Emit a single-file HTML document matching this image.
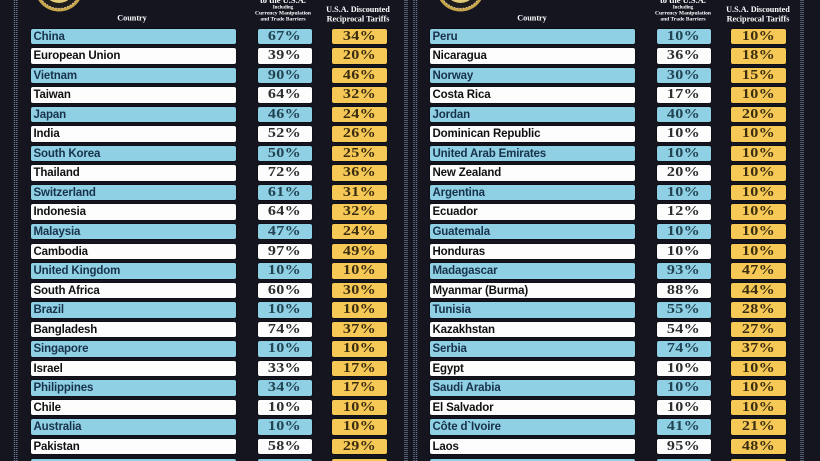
<!DOCTYPE html>
<html><head><meta charset="utf-8">
<style>
*{margin:0;padding:0;box-sizing:border-box}
html,body{width:820px;height:461px;overflow:hidden;background:#14151f}
#wrap{position:relative;width:820px;height:461px;background:#14151f;overflow:hidden}
svg.bg{position:absolute;left:0;top:0}
.col{position:absolute;top:28.5px;width:360px}
.row{position:relative;height:15.5px;margin-bottom:4.05px}
.row div{position:absolute;top:0;height:15.5px;border-radius:2px;box-shadow:0 0 0 0.5px rgba(0,0,0,.5)}
.c{left:0;width:204.5px;font-family:"Liberation Sans",sans-serif;font-weight:bold;font-size:11.5px;line-height:16px;padding-left:2.5px;white-space:nowrap;color:#14283b;letter-spacing:-0.15px}
.p{left:226.5px;width:54.5px}
.y{left:300.5px;width:55px;background:#f6c957;color:#3b2d10}
.p,.y{font-family:"Liberation Serif",serif;font-size:14px;font-weight:bold;line-height:16px;text-align:center}
.p span,.y span{display:inline-block;transform:scaleX(1.15);letter-spacing:0.3px}
.b .c,.b .p{background:#8fd0e4}
.b .c{color:#17324a}
.b .p{color:#214453}
.w .c,.w .p{background:#fdfdfd}
.w .c{color:#111}
.w .p{color:#2e2e2e}
</style></head><body><div id="wrap">
<svg class="bg" width="820" height="461" xmlns="http://www.w3.org/2000/svg">
<g stroke="#6f7b98" stroke-width="1.4" stroke-dasharray="1 1">
<line x1="14.5" y1="0" x2="14.5" y2="461"/><line x1="16.8" y1="0" x2="16.8" y2="461"/>
<line x1="405" y1="0" x2="405" y2="461"/><line x1="407" y1="0" x2="407" y2="461"/>
<line x1="414" y1="0" x2="414" y2="461"/><line x1="416.5" y1="0" x2="416.5" y2="461"/>
<line x1="801" y1="0" x2="801" y2="461"/><line x1="803" y1="0" x2="803" y2="461"/>
</g>
<g>
<circle cx="59" cy="-13" r="24.5" fill="#c9a54a"/>
<circle cx="59" cy="-13" r="21.5" fill="#1e1c1c"/>
<circle cx="59" cy="-13" r="21.5" fill="none" stroke="#d8c79a" stroke-width="1.2" stroke-dasharray="1.5 1.5"/>
<circle cx="59" cy="-13" r="16" fill="#e0c977"/>
<circle cx="460.5" cy="-13" r="24.5" fill="#c9a54a"/>
<circle cx="460.5" cy="-13" r="21.5" fill="#1e1c1c"/>
<circle cx="460.5" cy="-13" r="21.5" fill="none" stroke="#d8c79a" stroke-width="1.2" stroke-dasharray="1.5 1.5"/>
<circle cx="460.5" cy="-13" r="16" fill="#e0c977"/>
</g>
<g fill="#ffffff" font-family="Liberation Serif, serif" font-weight="bold" text-anchor="middle">
<text x="132" y="20.5" font-size="8.2">Country</text>
<text x="532" y="20.5" font-size="8.2">Country</text>
<text x="358" y="12" font-size="8.2">U.S.A. Discounted</text>
<text x="358" y="21.5" font-size="8.2">Reciprocal Tariffs</text>
<text x="758" y="12" font-size="8.2">U.S.A. Discounted</text>
<text x="758" y="21.5" font-size="8.2">Reciprocal Tariffs</text>
<text x="283" y="3" font-size="8.5">to the U.S.A.</text>
<text x="683" y="3" font-size="8.5">to the U.S.A.</text>
<g transform="translate(283 0) scale(0.5)">
<text x="0" y="17" font-size="10">Including</text>
<text x="0" y="29" font-size="11">Currency Manipulation</text>
<text x="0" y="41" font-size="11">and Trade Barriers</text>
</g>
<g transform="translate(683 0) scale(0.5)">
<text x="0" y="17" font-size="10">Including</text>
<text x="0" y="29" font-size="11">Currency Manipulation</text>
<text x="0" y="41" font-size="11">and Trade Barriers</text>
</g>
</g>
</svg>

<div class="col" style="left:31px">
<div class="row b"><div class="c">China</div><div class="p"><span>67%</span></div><div class="y"><span>34%</span></div></div>
<div class="row w"><div class="c">European Union</div><div class="p"><span>39%</span></div><div class="y"><span>20%</span></div></div>
<div class="row b"><div class="c">Vietnam</div><div class="p"><span>90%</span></div><div class="y"><span>46%</span></div></div>
<div class="row w"><div class="c">Taiwan</div><div class="p"><span>64%</span></div><div class="y"><span>32%</span></div></div>
<div class="row b"><div class="c">Japan</div><div class="p"><span>46%</span></div><div class="y"><span>24%</span></div></div>
<div class="row w"><div class="c">India</div><div class="p"><span>52%</span></div><div class="y"><span>26%</span></div></div>
<div class="row b"><div class="c">South Korea</div><div class="p"><span>50%</span></div><div class="y"><span>25%</span></div></div>
<div class="row w"><div class="c">Thailand</div><div class="p"><span>72%</span></div><div class="y"><span>36%</span></div></div>
<div class="row b"><div class="c">Switzerland</div><div class="p"><span>61%</span></div><div class="y"><span>31%</span></div></div>
<div class="row w"><div class="c">Indonesia</div><div class="p"><span>64%</span></div><div class="y"><span>32%</span></div></div>
<div class="row b"><div class="c">Malaysia</div><div class="p"><span>47%</span></div><div class="y"><span>24%</span></div></div>
<div class="row w"><div class="c">Cambodia</div><div class="p"><span>97%</span></div><div class="y"><span>49%</span></div></div>
<div class="row b"><div class="c">United Kingdom</div><div class="p"><span>10%</span></div><div class="y"><span>10%</span></div></div>
<div class="row w"><div class="c">South Africa</div><div class="p"><span>60%</span></div><div class="y"><span>30%</span></div></div>
<div class="row b"><div class="c">Brazil</div><div class="p"><span>10%</span></div><div class="y"><span>10%</span></div></div>
<div class="row w"><div class="c">Bangladesh</div><div class="p"><span>74%</span></div><div class="y"><span>37%</span></div></div>
<div class="row b"><div class="c">Singapore</div><div class="p"><span>10%</span></div><div class="y"><span>10%</span></div></div>
<div class="row w"><div class="c">Israel</div><div class="p"><span>33%</span></div><div class="y"><span>17%</span></div></div>
<div class="row b"><div class="c">Philippines</div><div class="p"><span>34%</span></div><div class="y"><span>17%</span></div></div>
<div class="row w"><div class="c">Chile</div><div class="p"><span>10%</span></div><div class="y"><span>10%</span></div></div>
<div class="row b"><div class="c">Australia</div><div class="p"><span>10%</span></div><div class="y"><span>10%</span></div></div>
<div class="row w"><div class="c">Pakistan</div><div class="p"><span>58%</span></div><div class="y"><span>29%</span></div></div>
<div class="row b"><div class="c">Sri Lanka</div><div class="p"><span>88%</span></div><div class="y"><span>44%</span></div></div>
</div>

<div class="col" style="left:430px">
<div class="row b"><div class="c">Peru</div><div class="p"><span>10%</span></div><div class="y"><span>10%</span></div></div>
<div class="row w"><div class="c">Nicaragua</div><div class="p"><span>36%</span></div><div class="y"><span>18%</span></div></div>
<div class="row b"><div class="c">Norway</div><div class="p"><span>30%</span></div><div class="y"><span>15%</span></div></div>
<div class="row w"><div class="c">Costa Rica</div><div class="p"><span>17%</span></div><div class="y"><span>10%</span></div></div>
<div class="row b"><div class="c">Jordan</div><div class="p"><span>40%</span></div><div class="y"><span>20%</span></div></div>
<div class="row w"><div class="c">Dominican Republic</div><div class="p"><span>10%</span></div><div class="y"><span>10%</span></div></div>
<div class="row b"><div class="c">United Arab Emirates</div><div class="p"><span>10%</span></div><div class="y"><span>10%</span></div></div>
<div class="row w"><div class="c">New Zealand</div><div class="p"><span>20%</span></div><div class="y"><span>10%</span></div></div>
<div class="row b"><div class="c">Argentina</div><div class="p"><span>10%</span></div><div class="y"><span>10%</span></div></div>
<div class="row w"><div class="c">Ecuador</div><div class="p"><span>12%</span></div><div class="y"><span>10%</span></div></div>
<div class="row b"><div class="c">Guatemala</div><div class="p"><span>10%</span></div><div class="y"><span>10%</span></div></div>
<div class="row w"><div class="c">Honduras</div><div class="p"><span>10%</span></div><div class="y"><span>10%</span></div></div>
<div class="row b"><div class="c">Madagascar</div><div class="p"><span>93%</span></div><div class="y"><span>47%</span></div></div>
<div class="row w"><div class="c">Myanmar (Burma)</div><div class="p"><span>88%</span></div><div class="y"><span>44%</span></div></div>
<div class="row b"><div class="c">Tunisia</div><div class="p"><span>55%</span></div><div class="y"><span>28%</span></div></div>
<div class="row w"><div class="c">Kazakhstan</div><div class="p"><span>54%</span></div><div class="y"><span>27%</span></div></div>
<div class="row b"><div class="c">Serbia</div><div class="p"><span>74%</span></div><div class="y"><span>37%</span></div></div>
<div class="row w"><div class="c">Egypt</div><div class="p"><span>10%</span></div><div class="y"><span>10%</span></div></div>
<div class="row b"><div class="c">Saudi Arabia</div><div class="p"><span>10%</span></div><div class="y"><span>10%</span></div></div>
<div class="row w"><div class="c">El Salvador</div><div class="p"><span>10%</span></div><div class="y"><span>10%</span></div></div>
<div class="row b"><div class="c">Côte d`Ivoire</div><div class="p"><span>41%</span></div><div class="y"><span>21%</span></div></div>
<div class="row w"><div class="c">Laos</div><div class="p"><span>95%</span></div><div class="y"><span>48%</span></div></div>
<div class="row b"><div class="c">Botswana</div><div class="p"><span>74%</span></div><div class="y"><span>37%</span></div></div>
</div>
</div></body></html>
